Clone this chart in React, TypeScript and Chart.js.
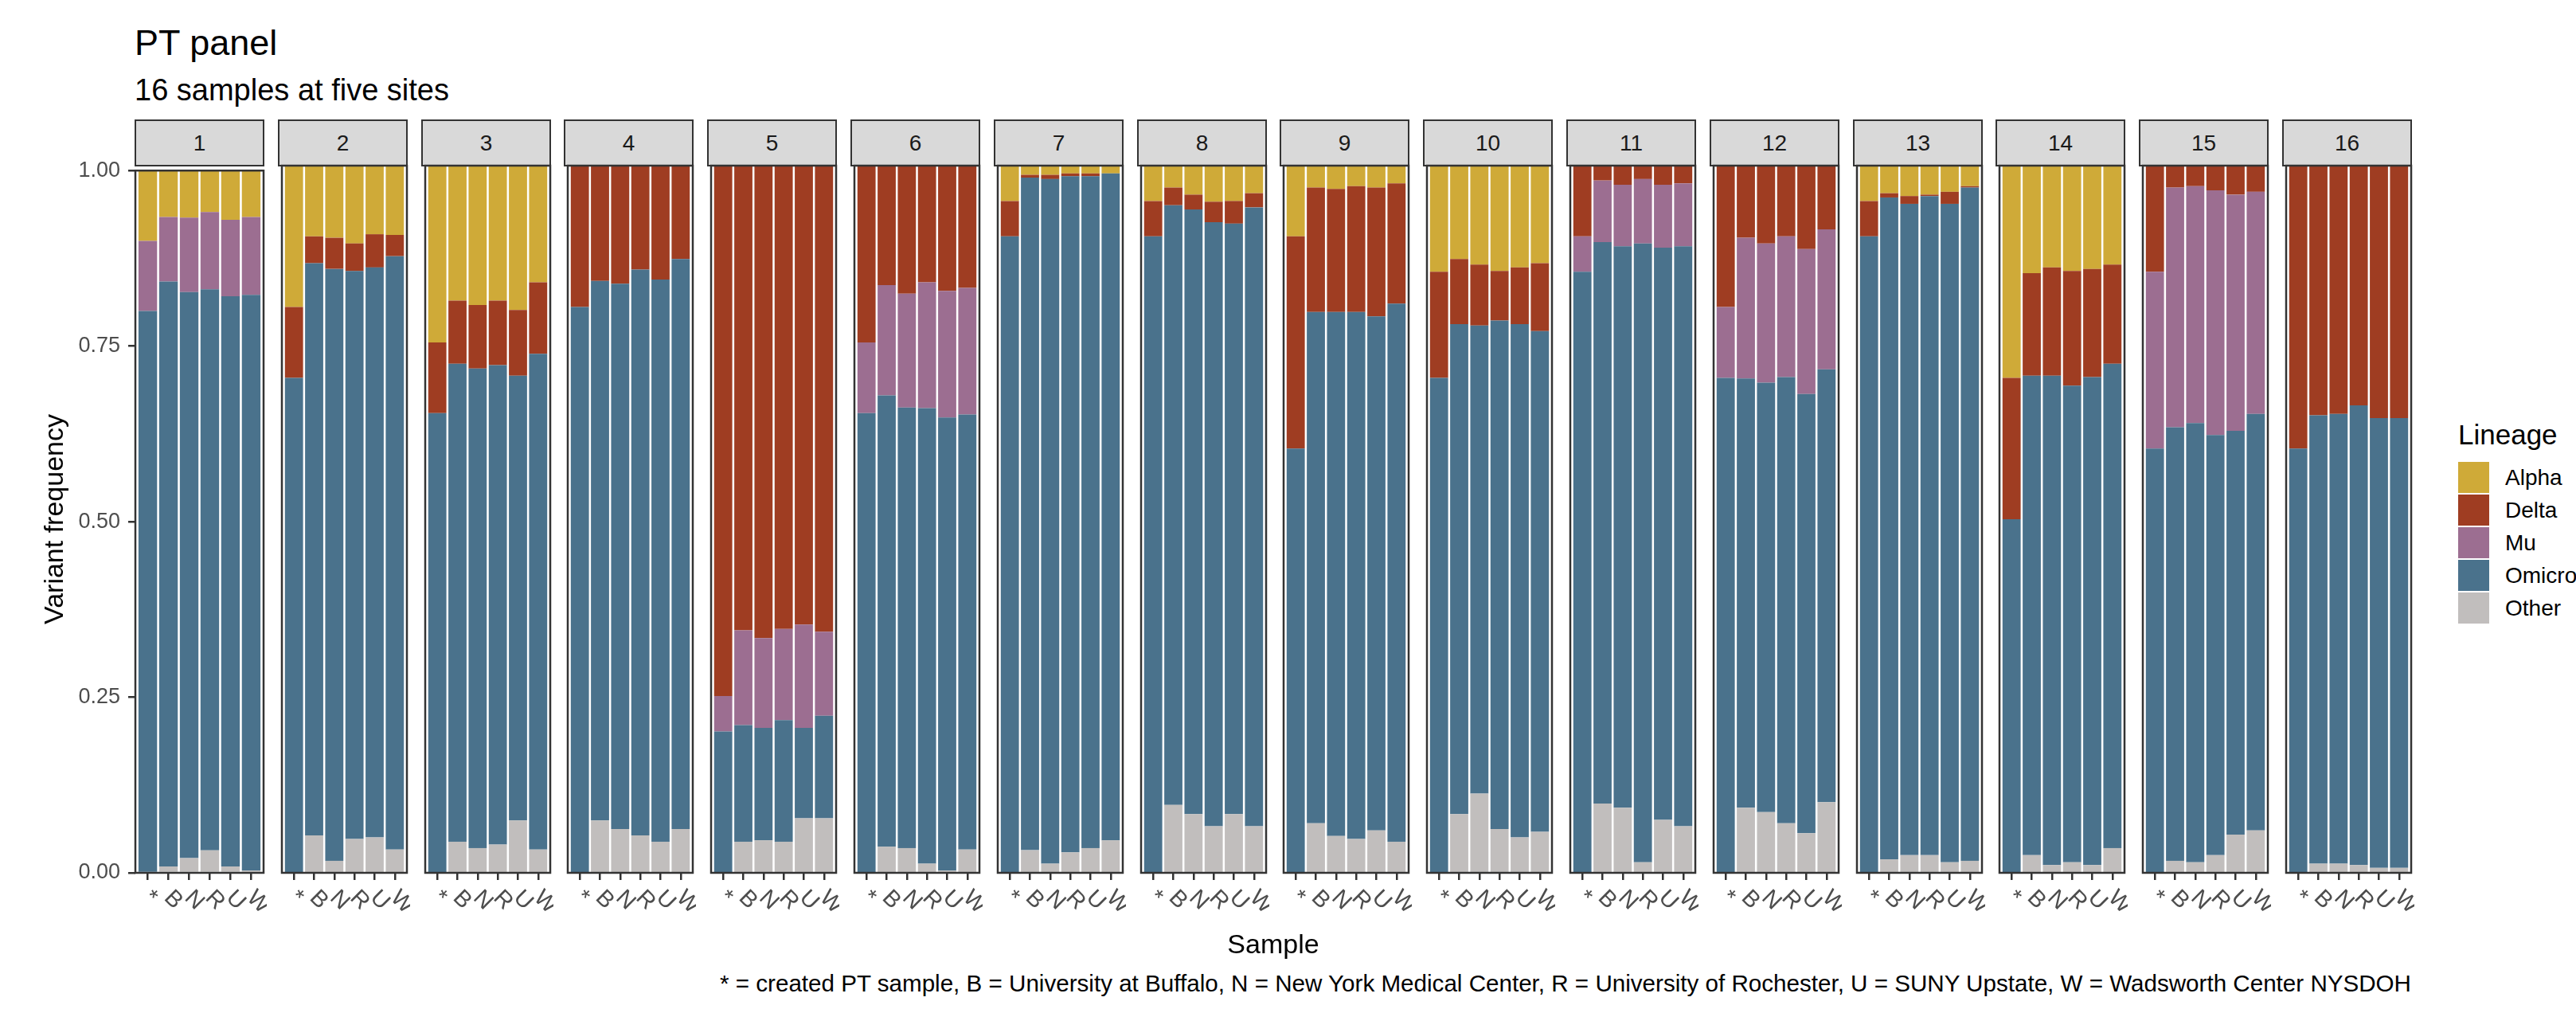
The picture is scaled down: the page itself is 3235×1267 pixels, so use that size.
import React, { useEffect, useRef } from "react";
import { Chart, registerables } from "chart.js";

Chart.register(...registerables);

// ---------------- data ----------------
const TITLE = "PT panel";
const SUBTITLE = "16 samples at five sites";
const X_TITLE = "Sample";
const Y_TITLE = "Variant frequency";
const CAPTION =
  "* = created PT sample, B = University at Buffalo, N = New York Medical Center, R = University of Rochester, U = SUNY Upstate, W = Wadsworth Center NYSDOH";
const LEGEND_TITLE = "Lineage";

const PANELS = ["1", "2", "3", "4", "5", "6", "7", "8", "9", "10", "11", "12", "13", "14", "15", "16"];
const SAMPLES = ["*", "B", "N", "R", "U", "W"];
const Y_TICKS = [0, 0.25, 0.5, 0.75, 1];
const LINEAGES = ["Alpha", "Delta", "Mu", "Omicron", "Other"];
const LINEAGE_COLORS = ["#CFAA38", "#9F3D22", "#9C6E91", "#4A728C", "#C1BEBD"];

// one row per panel, one value per sample (*, B, N, R, U, W)
const OTHER = [
  [0, 0.009, 0.021, 0.032, 0.009, 0.003],
  [0, 0.053, 0.017, 0.048, 0.05, 0.033],
  [0, 0.044, 0.035, 0.04, 0.074, 0.033],
  [0, 0.074, 0.062, 0.053, 0.044, 0.062],
  [0, 0.044, 0.046, 0.044, 0.077, 0.077],
  [0, 0.037, 0.035, 0.013, 0.003, 0.033],
  [0, 0.032, 0.013, 0.029, 0.035, 0.046],
  [0, 0.096, 0.083, 0.066, 0.083, 0.066],
  [0, 0.07, 0.052, 0.048, 0.06, 0.044],
  [0, 0.083, 0.112, 0.062, 0.05, 0.058],
  [0, 0.098, 0.092, 0.015, 0.075, 0.066],
  [0, 0.092, 0.086, 0.07, 0.056, 0.1],
  [0, 0.019, 0.025, 0.025, 0.015, 0.017],
  [0, 0.025, 0.011, 0.015, 0.011, 0.035],
  [0, 0.017, 0.015, 0.025, 0.054, 0.06],
  [0, 0.013, 0.013, 0.011, 0.007, 0.007],
];

const OMICRON = [
  [0.8, 0.833, 0.806, 0.799, 0.812, 0.82],
  [0.7, 0.809, 0.837, 0.803, 0.806, 0.839],
  [0.65, 0.676, 0.678, 0.678, 0.629, 0.701],
  [0.8, 0.763, 0.771, 0.8, 0.795, 0.806],
  [0.2, 0.165, 0.159, 0.172, 0.128, 0.145],
  [0.65, 0.638, 0.623, 0.644, 0.641, 0.615],
  [0.9, 0.951, 0.968, 0.956, 0.95, 0.943],
  [0.9, 0.848, 0.855, 0.854, 0.835, 0.875],
  [0.6, 0.723, 0.741, 0.745, 0.727, 0.761],
  [0.7, 0.693, 0.662, 0.719, 0.726, 0.708],
  [0.85, 0.794, 0.794, 0.875, 0.809, 0.82],
  [0.7, 0.607, 0.607, 0.631, 0.621, 0.612],
  [0.9, 0.936, 0.921, 0.932, 0.931, 0.952],
  [0.5, 0.678, 0.692, 0.674, 0.69, 0.685],
  [0.6, 0.613, 0.621, 0.594, 0.571, 0.589],
  [0.6, 0.634, 0.636, 0.65, 0.636, 0.636],
];

const MU = [
  [0.1, 0.092, 0.106, 0.11, 0.109, 0.111],
  [0, 0, 0, 0, 0, 0],
  [0, 0, 0, 0, 0, 0],
  [0, 0, 0, 0, 0, 0],
  [0.05, 0.134, 0.127, 0.129, 0.146, 0.119],
  [0.1, 0.156, 0.161, 0.178, 0.179, 0.179],
  [0, 0, 0, 0, 0, 0],
  [0, 0, 0, 0, 0, 0],
  [0, 0, 0, 0, 0, 0],
  [0, 0, 0, 0, 0, 0],
  [0.05, 0.087, 0.087, 0.091, 0.089, 0.089],
  [0.1, 0.199, 0.197, 0.199, 0.205, 0.198],
  [0, 0, 0, 0, 0, 0],
  [0, 0, 0, 0, 0, 0],
  [0.25, 0.339, 0.335, 0.346, 0.334, 0.314],
  [0, 0, 0, 0, 0, 0],
];

const DELTA = [
  [0, 0, 0, 0, 0, 0],
  [0.1, 0.038, 0.044, 0.039, 0.047, 0.03],
  [0.1, 0.089, 0.09, 0.091, 0.093, 0.101],
  [0.2, 0.163, 0.167, 0.147, 0.161, 0.132],
  [0.75, 0.657, 0.668, 0.655, 0.649, 0.659],
  [0.25, 0.169, 0.181, 0.165, 0.177, 0.173],
  [0.05, 0.004, 0.006, 0.004, 0.004, 0],
  [0.05, 0.025, 0.021, 0.029, 0.032, 0.02],
  [0.3, 0.176, 0.174, 0.178, 0.182, 0.17],
  [0.15, 0.092, 0.086, 0.07, 0.08, 0.096],
  [0.1, 0.021, 0.027, 0.019, 0.027, 0.025],
  [0.2, 0.102, 0.11, 0.1, 0.118, 0.09],
  [0.05, 0.006, 0.011, 0.002, 0.017, 0.002],
  [0.2, 0.145, 0.153, 0.162, 0.153, 0.14],
  [0.15, 0.031, 0.029, 0.035, 0.041, 0.037],
  [0.4, 0.353, 0.351, 0.339, 0.357, 0.357],
];

const ALPHA = [
  [0.1, 0.066, 0.067, 0.059, 0.07, 0.066],
  [0.2, 0.1, 0.102, 0.11, 0.097, 0.098],
  [0.25, 0.191, 0.197, 0.191, 0.204, 0.165],
  [0, 0, 0, 0, 0, 0],
  [0, 0, 0, 0, 0, 0],
  [0, 0, 0, 0, 0, 0],
  [0.05, 0.013, 0.013, 0.011, 0.011, 0.011],
  [0.05, 0.031, 0.041, 0.051, 0.05, 0.039],
  [0.1, 0.031, 0.033, 0.029, 0.031, 0.025],
  [0.15, 0.132, 0.14, 0.149, 0.144, 0.138],
  [0, 0, 0, 0, 0, 0],
  [0, 0, 0, 0, 0, 0],
  [0.05, 0.039, 0.043, 0.041, 0.037, 0.029],
  [0.3, 0.152, 0.144, 0.149, 0.146, 0.14],
  [0, 0, 0, 0, 0, 0],
  [0, 0, 0, 0, 0, 0],
];

// ---------------- layout ----------------
const FONT = '"Liberation Sans", Arial, Helvetica, sans-serif';
const PAGE_W = 3235;
const PAGE_H = 1267;
const PLOT_LEFT = 170;
const PANEL_W = 161;
const PANEL_STEP = 179.8;
const PLOT_TOP = 208;
const PLOT_H = 888;
const STRIP_TOP = 150;
const STRIP_H = 58;
const PAD_TOP = 20;
const X_AXIS_H = 80;
const DARK = "#333333";
const TICK_GREY = "#4D4D4D";

const panelLeft = (i: number) => Math.round(PLOT_LEFT + i * PANEL_STEP);

const panelDecor = {
  id: "panelDecor",
  afterDraw(chart: any) {
    const { ctx, chartArea: a, scales } = chart;
    ctx.save();
    ctx.strokeStyle = DARK;
    ctx.lineWidth = 2.5;
    ctx.strokeRect(a.left, a.top, a.right - a.left, a.bottom - a.top);
    ctx.fillStyle = TICK_GREY;
    ctx.font = `29px ${FONT}`;
    ctx.textAlign = "left";
    ctx.textBaseline = "middle";
    const xs = scales.x;
    xs.ticks.forEach((t: any) => {
      const x = xs.getPixelForValue(t.value);
      ctx.save();
      ctx.translate(x - 1, a.bottom + 27);
      ctx.rotate(Math.PI / 4);
      ctx.fillText(SAMPLES[t.value - 1], 0, 0);
      ctx.restore();
    });
    ctx.restore();
  },
};

function Panel({ index }: { index: number }) {
  const ref = useRef<HTMLCanvasElement | null>(null);
  const first = index === 0;
  const left = panelLeft(index);
  const canvasLeft = first ? 0 : left - 4;
  const canvasW = first ? left + PANEL_W + 4 : PANEL_W + 8;
  const canvasTop = PLOT_TOP - PAD_TOP;
  const canvasH = PAD_TOP + PLOT_H + X_AXIS_H;

  useEffect(() => {
    if (!ref.current) return;
    const stackOrder = [
      { label: "Other", values: OTHER[index], color: LINEAGE_COLORS[4] },
      { label: "Omicron", values: OMICRON[index], color: LINEAGE_COLORS[3] },
      { label: "Mu", values: MU[index], color: LINEAGE_COLORS[2] },
      { label: "Delta", values: DELTA[index], color: LINEAGE_COLORS[1] },
      { label: "Alpha", values: ALPHA[index], color: LINEAGE_COLORS[0] },
    ];
    const chart = new Chart(ref.current, {
      type: "bar",
      data: {
        datasets: stackOrder.map((s) => ({
          label: s.label,
          data: s.values.map((v, j) => ({ x: j + 1, y: v })),
          backgroundColor: s.color,
          borderWidth: 0,
          barPercentage: 0.9,
          categoryPercentage: 1,
        })),
      },
      options: {
        responsive: false,
        maintainAspectRatio: false,
        animation: false,
        layout: { padding: { top: PAD_TOP, left: first ? 0 : 4, right: 4, bottom: 0 } },
        plugins: {
          legend: { display: false },
          tooltip: { enabled: false },
          title: { display: false },
        },
        scales: {
          x: {
            type: "linear",
            min: 0.4,
            max: 6.6,
            offset: false,
            stacked: true,
            afterBuildTicks: (s: any) => {
              s.ticks = SAMPLES.map((_, j) => ({ value: j + 1 }));
            },
            afterFit: (s: any) => {
              s.height = X_AXIS_H;
            },
            ticks: { display: false },
            grid: {
              display: true,
              offset: false,
              drawOnChartArea: false,
              drawTicks: true,
              tickLength: 9,
              color: DARK,
              lineWidth: 2.5,
            },
            border: { display: false },
          },
          y: {
            type: "linear",
            min: 0,
            max: 1,
            stacked: true,
            display: first,
            afterBuildTicks: (s: any) => {
              s.ticks = Y_TICKS.map((v) => ({ value: v }));
            },
            afterFit: (s: any) => {
              s.width = left - canvasLeft;
            },
            ticks: {
              callback: (v: any) => Number(v).toFixed(2),
              font: { family: FONT, size: 27 },
              color: TICK_GREY,
              padding: 10,
            },
            grid: {
              display: true,
              drawOnChartArea: false,
              drawTicks: true,
              tickLength: 9,
              color: DARK,
              lineWidth: 2.5,
            },
            border: { display: false },
          },
        },
      } as any,
      plugins: [panelDecor],
    });
    return () => chart.destroy();
  }, [index]);

  return (
    <>
      <div
        style={{
          position: "absolute",
          left: left - 1.25,
          top: STRIP_TOP,
          width: PANEL_W + 2.5,
          height: STRIP_H + 1.25,
          boxSizing: "border-box",
          border: `2.5px solid ${DARK}`,
          background: "#D9D9D9",
          display: "flex",
          alignItems: "center",
          justifyContent: "center",
          fontSize: 28,
          color: "#1A1A1A",
          lineHeight: 1,
        }}
      >
        {PANELS[index]}
      </div>
      <canvas
        ref={ref}
        width={canvasW}
        height={canvasH}
        style={{ position: "absolute", left: canvasLeft, top: canvasTop, width: canvasW, height: canvasH }}
      />
    </>
  );
}

export default function App() {
  const text = (extra: React.CSSProperties): React.CSSProperties => ({
    position: "absolute",
    whiteSpace: "nowrap",
    lineHeight: 1,
    color: "#000",
    ...extra,
  });
  return (
    <div
      style={{
        position: "absolute",
        left: 0,
        top: 0,
        width: PAGE_W,
        height: PAGE_H,
        overflow: "hidden",
        background: "#FFFFFF",
        fontFamily: FONT,
      }}
    >
      <div style={text({ left: 169, top: 31, fontSize: 45 })}>{TITLE}</div>
      <div style={text({ left: 169, top: 94, fontSize: 38 })}>{SUBTITLE}</div>

      {PANELS.map((_, i) => (
        <Panel key={i} index={i} />
      ))}

      <div
        style={text({
          left: 67,
          top: PLOT_TOP + PLOT_H / 2,
          fontSize: 34,
          transform: "translate(-50%, -50%) rotate(-90deg)",
        })}
      >
        {Y_TITLE}
      </div>
      <div
        style={text({
          left: (PLOT_LEFT + panelLeft(15) + PANEL_W) / 2,
          top: 1168,
          fontSize: 34,
          transform: "translateX(-50%)",
        })}
      >
        {X_TITLE}
      </div>
      <div style={text({ right: PAGE_W - (panelLeft(15) + PANEL_W), top: 1220, fontSize: 29.6 })}>{CAPTION}</div>

      <div style={text({ left: 3087, top: 528, fontSize: 35 })}>{LEGEND_TITLE}</div>
      {LINEAGES.map((name, k) => (
        <React.Fragment key={name}>
          <div
            style={{
              position: "absolute",
              left: 3087,
              top: 579 + k * 41 + 1,
              width: 39,
              height: 39,
              background: LINEAGE_COLORS[k],
            }}
          />
          <div style={text({ left: 3146, top: 579 + k * 41, fontSize: 28, lineHeight: "41px" })}>{name}</div>
        </React.Fragment>
      ))}
    </div>
  );
}
